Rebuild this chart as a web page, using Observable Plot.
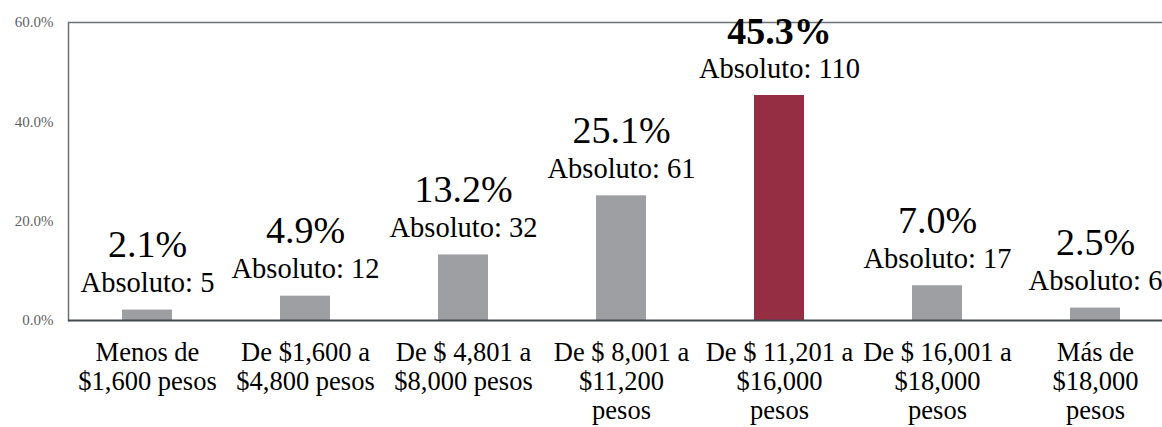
<!DOCTYPE html>
<html>
<head>
<meta charset="utf-8">
<script src="https://cdn.jsdelivr.net/npm/d3@7"></script>
<script src="https://cdn.jsdelivr.net/npm/@observablehq/plot@0.6"></script>
<style>
  html, body { margin: 0; padding: 0; background: #fff; overflow: hidden; }
</style>
</head>
<body>
<div id="chart"></div>
<script>
const categories = [
  "Menos de\n$1,600 pesos",
  "De $1,600 a\n$4,800 pesos",
  "De $ 4,801 a\n$8,000 pesos",
  "De $ 8,001 a\n$11,200\npesos",
  "De $ 11,201 a\n$16,000\npesos",
  "De $ 16,001 a\n$18,000\npesos",
  "Más de\n$18,000\npesos"
];
const percentages = [2.1, 4.9, 13.2, 25.1, 45.3, 7.0, 2.5];
const absolutes = [5, 12, 32, 61, 110, 17, 6];
const highlightCategory = "De $ 11,201 a\n$16,000\npesos";
const yTicks = [0, 20, 40, 60];

const data = categories.map((c, i) => ({cat: c, pct: percentages[i], abs: absolutes[i], hi: c === highlightCategory}));
const FONT = "Liberation Serif";

const chart = Plot.plot({
  width: 1162,
  height: 427,
  marginLeft: 68,
  marginRight: 0,
  marginTop: 22,
  marginBottom: 107,
  style: {fontFamily: FONT, background: "#fff"},
  x: {domain: categories, range: [68, 1174], paddingInner: 0.684, paddingOuter: 0.342, label: null},
  y: {domain: [0, 60], label: null},
  marks: [
    Plot.barY(data, {x: "cat", y: "pct", fill: d => d.hi ? "#952d43" : "#9d9fa2"}),
    Plot.ruleY([60], {stroke: "#6e7275", strokeWidth: 1.5}),
    Plot.frame({anchor: "left", stroke: "#6e7275", strokeWidth: 1.5}),
    Plot.ruleY([0], {stroke: "#434a54", strokeWidth: 2}),
    Plot.axisY({ticks: yTicks, tickFormat: d => d.toFixed(1) + "%", tickSize: 0, tickPadding: 15, fontSize: 15, fontFamily: FONT, fill: "#5f5f5f", label: null}),
    Plot.axisX({tickSize: 0, tickPadding: 20, fontSize: 26.5, lineHeight: 1.094, fontFamily: FONT, fill: "#000", label: null}),
    Plot.text(data.filter(d => !d.hi), {x: "cat", y: "pct", text: d => d.pct.toFixed(1) + "%", dy: -53, lineAnchor: "bottom", fontSize: 38, fontFamily: FONT, fill: "#000"}),
    Plot.text(data.filter(d => d.hi), {x: "cat", y: "pct", text: d => d.pct.toFixed(1) + "%", dy: -52, lineAnchor: "bottom", fontSize: 38, fontWeight: "bold", fontFamily: FONT, fill: "#000"}),
    Plot.text(data, {x: "cat", y: "pct", text: d => "Absoluto: " + d.abs, dy: -18, lineAnchor: "bottom", fontSize: 28.5, fontFamily: FONT, fill: "#000"})
  ]
});
document.getElementById("chart").appendChild(chart);
</script>
</body>
</html>
